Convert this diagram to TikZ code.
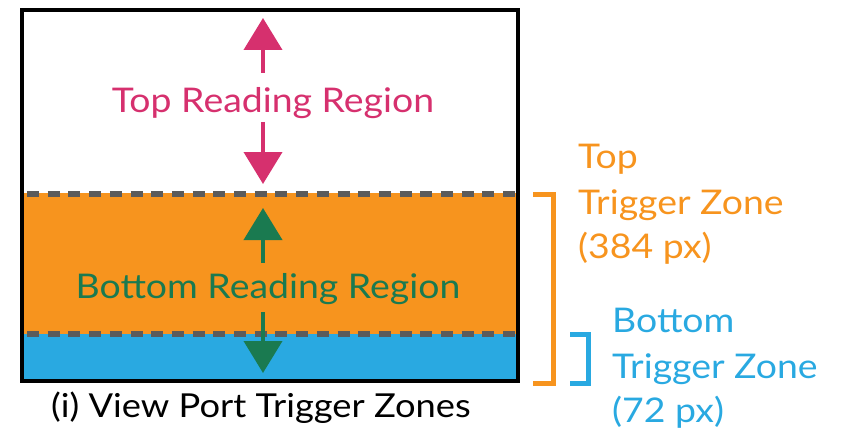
\documentclass[tikz,border=0pt]{standalone}
\usepackage{fontspec}
\setmainfont{Lato}[FakeStretch=1.1]
\usetikzlibrary{arrows.meta}
\definecolor{pk}{HTML}{D6306E}
\definecolor{og}{HTML}{F7941E}
\definecolor{bl}{HTML}{29A9E1}
\definecolor{gn}{HTML}{1A7A50}
\definecolor{dg}{HTML}{5B5B5B}
\tikzset{
  lbl/.style={inner sep=0pt, font=\fontsize{34}{40}\selectfont},
  caplbl/.style={inner sep=0pt, font=\fontsize{33}{40}\selectfont},
  dashline/.style={draw=dg, line width=6pt, dash pattern=on 12pt off 8.7pt},
  dblarrow/.style={line width=4pt, -{Triangle[width=38pt,length=32pt]}},
  bracket/.style={line width=5pt},
}
\begin{document}
\begin{tikzpicture}[x=1pt,y=-1pt]
\useasboundingbox (0,0) rectangle (843,433);
% zones
\fill[og] (22,193) rectangle (518,334);
\fill[bl] (22,334) rectangle (518,381);
\draw[dashline] (27,194) -- (518,194);
\draw[dashline] (27,334) -- (518,334);
\draw[line width=4pt] (22,10) rectangle (518,381);
% labels
\node[lbl, text=pk, anchor=base] (trr) at (273,113) {Top Reading Region};
\node[lbl, text=gn, anchor=base] (brr) at (268,298) {Bottom Reading Region};
% arrows
\coordinate (pkUs) at (263,73);  \coordinate (pkUe) at (263,18);
\coordinate (pkDs) at (263,122); \coordinate (pkDe) at (263,184);
\coordinate (gnUs) at (263,263); \coordinate (gnUe) at (263,208);
\coordinate (gnDs) at (263,312); \coordinate (gnDe) at (263,373);
\draw[dblarrow, pk] (pkUs) -- (pkUe);
\draw[dblarrow, pk] (pkDs) -- (pkDe);
\draw[dblarrow, gn] (gnUs) -- (gnUe);
\draw[dblarrow, gn] (gnDs) -- (gnDe);
% brackets
\coordinate (ob1) at (533,194); \coordinate (ob2) at (553,194);
\coordinate (ob3) at (553,383); \coordinate (ob4) at (533,383);
\draw[bracket, og] (ob1) -- (ob2) -- (ob3) -- (ob4);
\coordinate (bb1) at (570,334); \coordinate (bb2) at (588,334);
\coordinate (bb3) at (588,383); \coordinate (bb4) at (570,383);
\draw[bracket, bl] (bb1) -- (bb2) -- (bb3) -- (bb4);
% right texts
\node[lbl, text=og, anchor=base west] (t1) at (578,168) {Top};
\node[lbl, text=og, anchor=base west] (t2) at (578,214) {Trigger Zone};
\node[lbl, text=og, anchor=base west] (t3) at (578,258) {(384 px)};
\node[lbl, text=bl, anchor=base west] (b1) at (612,332) {Bottom};
\node[lbl, text=bl, anchor=base west] (b2) at (612,378) {Trigger Zone};
\node[lbl, text=bl, anchor=base west] (b3) at (612,422) {(72 px)};
% caption
\node[caplbl, anchor=base west] (cap) at (51,417) {(i) View Port Trigger Zones};
\end{tikzpicture}
\end{document}
